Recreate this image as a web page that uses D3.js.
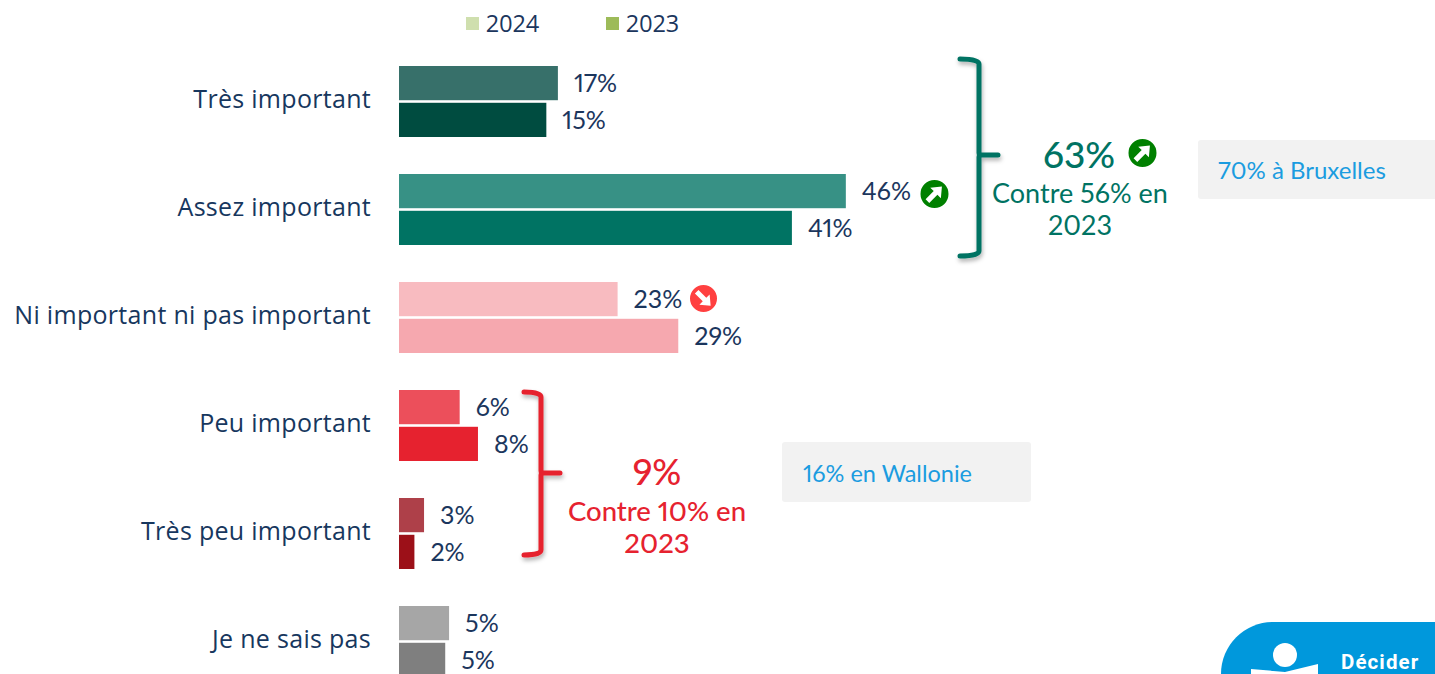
<!DOCTYPE html>
<html><head><meta charset="utf-8">
<script src="https://cdnjs.cloudflare.com/ajax/libs/d3/7.8.5/d3.min.js"></script>
<style>html,body{margin:0;padding:0;background:#fff;overflow:hidden}svg{display:block}text{font-variant-numeric:proportional-nums;font-feature-settings:"pnum" 1}</style>
</head><body><svg id="c" width="1435" height="674"></svg>
<script>
const categories=["Très important","Assez important","Ni important ni pas important","Peu important","Très peu important","Je ne sais pas"];
const years=["2024","2023"];
const values2024=[16.5,46.4,22.7,6.3,2.6,5.2];
const values2023=[15.3,40.8,29.0,8.2,1.6,4.8];
const colors2024=["#37706A","#379185","#F8BBC0","#EC4F5B","#AE4049","#A6A6A6"];
const colors2023=["#004C40","#007363","#F6A8AF","#E6222F","#9C1018","#7F7F7F"];
const legendColors=["#CFDFAE","#9DBB59"];
const ink="#1B365D",teal="#007363",red="#E6222F",blue="#1B9CE0";
const labelFont="'Open Sans',sans-serif",numFont="Lato,sans-serif";

const svg=d3.select("#c");
const defs=svg.append("defs");
const f=defs.append("filter").attr("id","sh").attr("x","-30%").attr("y","-10%").attr("width","160%").attr("height","120%");
f.append("feDropShadow").attr("dx",1).attr("dy",3).attr("stdDeviation",2).attr("flood-color","#000").attr("flood-opacity",.3);

const x=d3.scaleLinear().domain([0,100]).range([399,1362]);
const y=d3.scaleBand().domain(categories).range([66,677]).paddingInner(37/108).paddingOuter(0);
const yi=d3.scaleBand().domain(years).range([0,y.bandwidth()]).paddingInner(.07);

// legend
const lg=svg.append("g");
years.forEach((yr,i)=>{
  const lx=466+i*140;
  lg.append("rect").attr("x",lx).attr("y",17).attr("width",13).attr("height",13).attr("fill",legendColors[i]);
  lg.append("text").attr("x",lx+20).attr("y",32).attr("font-family",labelFont).attr("font-size",23.5).attr("fill",ink).text(yr);
});

// bars + labels
const rows=categories.flatMap((c,i)=>[
  {c,yr:years[0],v:values2024[i],col:colors2024[i]},
  {c,yr:years[1],v:values2023[i],col:colors2023[i]}]);
svg.append("g").selectAll("rect").data(rows).join("rect")
  .attr("x",x(0)).attr("y",d=>y(d.c)+yi(d.yr)).attr("width",d=>x(d.v)-x(0)).attr("height",yi.bandwidth())
  .attr("fill",d=>d.col);
svg.append("g").selectAll("text").data(rows).join("text")
  .attr("x",d=>x(d.v)+16).attr("y",d=>y(d.c)+yi(d.yr)+yi.bandwidth()/2+9)
  .attr("font-family",numFont).attr("font-size",25).attr("fill",ink).attr("font-weight",400)
  .text(d=>Math.round(d.v)+"%");

// category labels
svg.append("g").selectAll("text").data(categories).join("text")
  .attr("x",371).attr("y",c=>y(c)+y.bandwidth()/2+6)
  .attr("text-anchor","end").attr("font-family",labelFont).attr("font-size",25).attr("letter-spacing",.3).attr("fill","#17375E").text(c=>c);

// brackets
function bracket(x0,xm,xt,y0,ym,y1,col){
  const r=5;
  svg.append("path").attr("fill","none").attr("stroke",col).attr("stroke-width",5).attr("stroke-linecap","round").attr("filter","url(#sh)")
   .attr("d",`M${x0},${y0}Q${xm},${y0} ${xm},${y0+r}V${ym-2}Q${xm},${ym} ${xm+3},${ym}H${xt}M${xm+3},${ym}Q${xm},${ym} ${xm},${ym+2}V${y1-r}Q${xm},${y1} ${x0},${y1}`);
}
bracket(960,979,998,59,155,256,teal);
bracket(524,541,560,392,473,555,red);

// summary text
function t(px,py,s,size,col,w,anchor){
  svg.append("text").attr("x",px).attr("y",py).attr("font-family",numFont).attr("font-size",size).attr("fill",col)
    .attr("font-weight",w||400).attr("text-anchor",anchor||"middle").text(s);
}
t(1079,168,"63%",37,teal,500);
t(1080,203,"Contre 56% en",27,teal,400);
t(1080,235,"2023",27,teal,400);
t(657,485,"9%",36,red,500);
t(657,521,"Contre 10% en",27.5,red,500);
t(657,553,"2023",27.5,red,500);

// note boxes
svg.append("rect").attr("x",1198).attr("y",140).attr("width",240).attr("height",59).attr("rx",3).attr("fill","#F2F2F2");
svg.append("rect").attr("x",782).attr("y",442).attr("width",249).attr("height",60).attr("rx",3).attr("fill","#F2F2F2");
t(1218,179,"70% à Bruxelles",24,blue,400,"start");
t(803,482,"16% en Wallonie",23.5,blue,400,"start");

// trend icons
function icon(cx,cy,r,col,up){
  const g=svg.append("g").attr("transform",`translate(${cx},${cy}) rotate(${up?-45:45})`);
  g.append("circle").attr("r",r).attr("fill",col);
  const k=r/14;
  g.append("path").attr("fill","#fff").attr("d",`M${-10*k},${-2.6*k}H${1.5*k}V${-7.5*k}L${10.5*k},0L${1.5*k},${7.5*k}V${2.6*k}H${-10*k}Z`);
}
icon(934.5,194,14,"#008000",true);
icon(1142.5,153,14,"#008000",true);
icon(703.5,298.5,13.5,"#FF4040",false);

// logo corner
const logo=svg.append("g");
logo.append("path").attr("fill","#0098DC").attr("d","M1221,680V674A52,52 0 0 1 1273,622H1440V680Z");
logo.append("circle").attr("cx",1285).attr("cy",655).attr("r",12).attr("fill","#fff");
logo.append("path").attr("fill","#fff").attr("d","M1251,669L1285,672L1318,664V680H1251Z");
logo.append("text").attr("x",1341).attr("y",669).attr("font-family","Roboto,sans-serif").attr("font-weight",700).attr("font-size",20.5).attr("letter-spacing",1.1).attr("fill","#fff").text("Décider");
</script></body></html>
